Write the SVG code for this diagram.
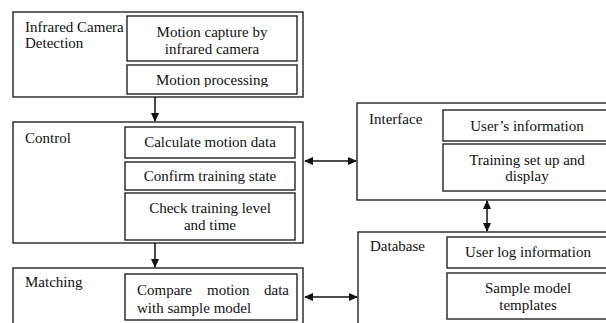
<svg xmlns="http://www.w3.org/2000/svg" width="606" height="323" viewBox="0 0 606 323">
<style>
.box{fill:#fff;stroke:#111;stroke-width:1.3}
.t{font-family:"Liberation Serif","Times New Roman",serif;font-size:15px;fill:#111}
.c{text-anchor:middle}
.ln{stroke:#111;stroke-width:1.5;fill:none}
</style>
<defs>
<marker id="ah" markerUnits="userSpaceOnUse" markerWidth="9" markerHeight="8" refX="8" refY="4" orient="auto-start-reverse">
<path d="M0,0 L9,4 L0,8 z" fill="#111"/>
</marker>
<clipPath id="clipMP"><rect x="127" y="65" width="170" height="22"/></clipPath>
<clipPath id="clipCT"><rect x="125" y="162" width="170" height="23"/></clipPath>
</defs>
<rect width="606" height="323" fill="#fff"/>

<g id="infrared">
<rect class="box" x="13" y="12" width="290" height="85"/>
<text class="t" x="25" y="32">Infrared Camera</text>
<text class="t" x="25" y="48">Detection</text>
<rect class="box" x="127" y="16" width="170" height="45"/>
<text class="t c" x="212" y="37">Motion capture by</text>
<text class="t c" x="212" y="54">infrared camera</text>
<rect class="box" x="127" y="65" width="170" height="29"/>
<text class="t c" x="212" y="85" clip-path="url(#clipMP)">Motion processing</text>
</g>

<g id="control">
<rect class="box" x="13" y="122" width="290" height="121"/>
<text class="t" x="25" y="143">Control</text>
<rect class="box" x="125" y="127" width="170" height="31"/>
<text class="t c" x="210" y="147">Calculate motion data</text>
<rect class="box" x="125" y="162" width="170" height="28"/>
<text class="t c" x="210" y="181" clip-path="url(#clipCT)">Confirm training state</text>
<rect class="box" x="125" y="193" width="170" height="47"/>
<text class="t c" x="210" y="213">Check training level</text>
<text class="t c" x="210" y="230">and time</text>
</g>

<g id="matching">
<rect class="box" x="13" y="268" width="290" height="70"/>
<text class="t" x="25" y="287">Matching</text>
<rect class="box" x="125" y="274" width="172" height="46"/>
<text class="t" y="295"><tspan x="137">Compare</tspan><tspan x="207">motion</tspan><tspan x="264">data</tspan></text>
<text class="t" x="137" y="313">with sample model</text>
</g>

<g id="interface">
<rect class="box" x="357" y="103" width="270" height="97"/>
<text class="t" x="369" y="124">Interface</text>
<rect class="box" x="443" y="110" width="180" height="31"/>
<text class="t c" x="527" y="131">User’s information</text>
<rect class="box" x="443" y="144" width="180" height="47"/>
<text class="t c" x="527" y="165">Training set up and</text>
<text class="t c" x="527" y="181">display</text>
</g>

<g id="database">
<rect class="box" x="358" y="232" width="270" height="100"/>
<text class="t" x="370" y="251">Database</text>
<rect class="box" x="447" y="237" width="180" height="31"/>
<text class="t c" x="528" y="257">User log information</text>
<rect class="box" x="447" y="273" width="180" height="46"/>
<text class="t c" x="528" y="293">Sample model</text>
<text class="t c" x="528" y="310">templates</text>
</g>

<g id="connectors">
<line class="ln" x1="155" y1="97" x2="155" y2="121" marker-end="url(#ah)"/>
<line class="ln" x1="155" y1="243" x2="155" y2="267" marker-end="url(#ah)"/>
<line class="ln" x1="305" y1="161" x2="356" y2="161" marker-start="url(#ah)" marker-end="url(#ah)"/>
<line class="ln" x1="487" y1="201" x2="487" y2="231" marker-start="url(#ah)" marker-end="url(#ah)"/>
<line class="ln" x1="305" y1="297" x2="357" y2="297" marker-start="url(#ah)" marker-end="url(#ah)"/>
</g>
</svg>
